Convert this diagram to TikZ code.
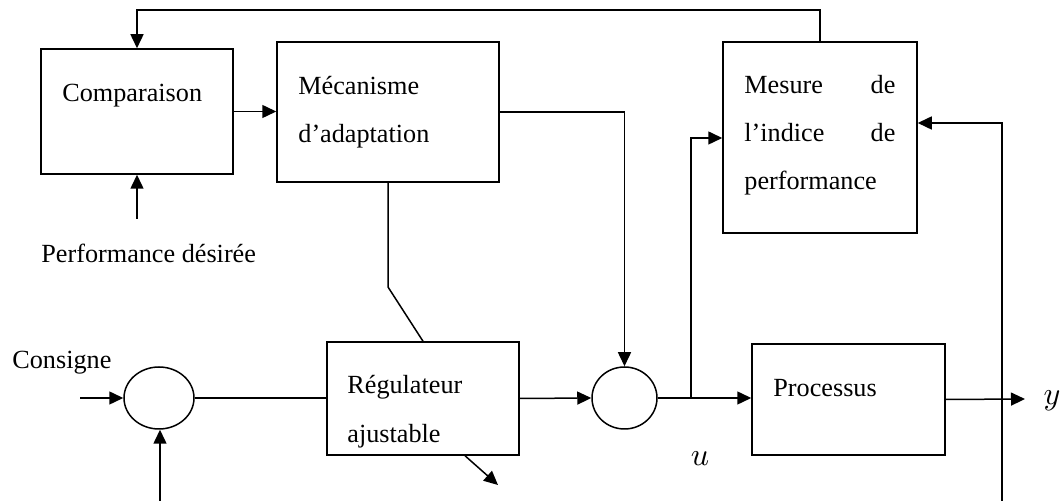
\documentclass[tikz,border=0pt]{standalone}
\usepackage{graphicx}
\usepackage{fontspec}
\setmainfont{Liberation Serif}
\usetikzlibrary{arrows.meta,shapes.geometric,calc}
\begin{document}
\begin{tikzpicture}[x=0.5pt,y=-0.5pt,
  lw/.style={line width=0.75pt},
  box/.style={draw,lw,rectangle,inner sep=0pt},
  sumn/.style={draw,lw,ellipse,inner sep=0pt},
  txt/.style={font=\fontsize{13.1}{16}\selectfont,inner sep=0pt,anchor=base west},
  mtxt/.style={inner sep=0pt},
  conn/.style={lw},
  arr/.style={lw,-{Triangle[length=7pt,width=6.5pt]}}]
\useasboundingbox (0,0) rectangle (1062,501);
% boxes
\node[box,minimum width=96pt,minimum height=62.5pt] (comp) at (137,111.5) {};
\node[box,minimum width=111pt,minimum height=70pt] (mec) at (388,112) {};
\node[box,minimum width=97pt,minimum height=95.5pt] (mes) at (820,137.5) {};
\node[box,minimum width=96pt,minimum height=56.5pt] (reg) at (423,398.5) {};
\node[box,minimum width=96.5pt,minimum height=55.5pt] (proc) at (848.5,399.5) {};
\node[sumn,minimum width=35pt,minimum height=31pt] (s1) at (159,398) {};
\node[sumn,minimum width=32.5pt,minimum height=31pt] (s2) at (624.5,398) {};
% texts
\node[txt] (tcomp) at (62,102) {Comparaison};
\node[txt] (tmec1) at (298,95) {Mécanisme};
\node[txt] (tmec2) at (298,143) {d’adaptation};
\node[txt] (tmes1) at (744,94) {\hbox to 75.5pt{Mesure\hfill de}};
\node[txt] (tmes2) at (744,142) {\hbox to 75.5pt{l’indice\hfill de}};
\node[txt] (tmes3) at (744,190) {performance};
\node[txt] (treg1) at (347,394) {Régulateur};
\node[txt] (treg2) at (347,443) {ajustable};
\node[txt] (tproc) at (773,397) {Processus};
\node[txt] (tcons) at (12,369) {Consigne};
\node[txt] (tperf) at (41,263) {Performance désirée};
\node[mtxt] (tu) at (700,459) {\scalebox{1.6}{$u$}};
\node[mtxt] (ty) at (1052,401) {\scalebox{1.6}{$y$}};
% coordinates
\coordinate (tl) at (137,10);
\coordinate (pin) at (137,219);
\coordinate (bend) at (388,287);
\coordinate (cin) at (80,398);
\coordinate (bin) at (160,501);
\coordinate (rout) at (498,485);
\coordinate (br) at (691,398);
\coordinate (yout) at (1025,399);
\coordinate (fb) at (1002,501);
% connectors
\draw[arr] (mes.north) |- (tl) -- (comp.north);
\draw[arr] (comp.east) -- (comp.east -| mec.west);
\draw[arr] (pin) -- (comp.south);
\draw[arr] (mec.east) -| (s2.north);
\draw[conn] (mec.south) -- (bend) -- (reg.north);
\draw[arr] (cin) -- (s1.west);
\draw[arr] (bin) -- (s1.south -| bin);
\draw[conn] (s1.east) -- (s1.east -| reg.west);
\draw[arr] (reg.east) -- (s2.west);
\draw[arr] ([xshift=21pt]reg.south) -- (rout);
\draw[arr] (s2.east) -- (s2.east -| proc.west);
\draw[arr] (br) |- ([yshift=-0.25pt]mes.west);
\draw[arr] (proc.east) -- (yout);
\draw[arr] (fb) |- ([yshift=7.25pt]mes.east);
\end{tikzpicture}
\end{document}
